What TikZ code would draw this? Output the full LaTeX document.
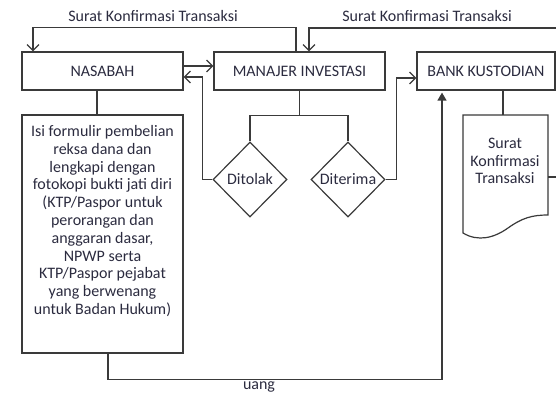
\documentclass[tikz,border=0pt]{standalone}
\usepackage{fontspec}
\setmainfont{Carlito}
\usetikzlibrary{arrows.meta,shapes.geometric}
\definecolor{ln}{HTML}{3A3A3A}
\definecolor{tx}{HTML}{2B2B3F}
\begin{document}
\begin{tikzpicture}[x=1pt,y=-1pt,
  font=\fontsize{16}{17.8}\selectfont, text=tx,
  box/.style={draw=ln, line width=1.2pt, rectangle, inner sep=0pt},
  dec/.style={draw=ln, line width=1.2pt, diamond, inner sep=0pt, minimum width=74pt, minimum height=75pt},
  conn/.style={draw=ln, line width=1.2pt},
  oarrow/.style={conn, -{Straight Barb[length=6pt,width=12pt]}},
  farrow/.style={conn, -{Triangle[length=8pt,width=9pt]}},
  txt/.style={align=center, inner sep=0pt}]
\useasboundingbox (0,0) rectangle (556,393);

% boxes
\node[box, minimum width=161pt, minimum height=38pt] (nas) at (102.5,71) {NASABAH};
\node[box, minimum width=171pt, minimum height=38pt] (man) at (299.5,71) {MANAJER INVESTASI};
\node[box, minimum width=138pt, minimum height=38pt] (bank) at (486,71) {BANK KUSTODIAN};
\node[box, minimum width=161pt, minimum height=238pt] (form) at (102.5,234) {};
\node[txt] (formtxt) at (102.5,221) {Isi formulir pembelian\\reksa dana dan\\lengkapi dengan\\fotokopi bukti jati diri\\(KTP/Paspor untuk\\perorangan dan\\anggaran dasar,\\NPWP serta\\KTP/Paspor pejabat\\yang berwenang\\untuk Badan Hukum)};

% decisions
\node[dec] (tol) at (250,179.5) {Ditolak};
\node[dec] (ter) at (348,179.5) {Diterima};

% document shape
\draw[conn, fill=white] (463,115) -- (548,115) -- (548,215)
  .. controls (532,215) and (522,218) .. (508,228)
  .. controls (494,238) and (478,242) .. (463,233) -- cycle;
\node[txt] (doc) at (505,161) {Surat\\Konfirmasi\\Transaksi};
\coordinate (doctop) at (503,115);
\coordinate (docr) at (548,177);
\coordinate (rc) at (558,28);

% labels
\node[txt] (l1) at (153,16) {Surat Konfirmasi Transaksi};
\node[txt] (l2) at (427,16) {Surat Konfirmasi Transaksi};
\node[txt] (uang) at (259,387) {uang};

% connectors
\draw[oarrow] ([xshift=-3.5pt]man.north) -- ++(0,-24) -| ([xshift=-69.5pt]nas.north);
\draw[oarrow] (docr) -| (rc) -| ([xshift=9.5pt]man.north);
\draw[oarrow] ([yshift=5pt]nas.east) -- ([yshift=5pt]man.west);
\draw[oarrow] (tol.west) -- ++(-10,0) |- ([yshift=-6pt]nas.east);
\draw[conn] (man.south) -- ++(0,25) coordinate (sp);
\draw[conn] (tol.north) |- (sp) -| (ter.north);
\draw[oarrow] (ter.east) -- ++(11,0) |- ([yshift=-7pt]bank.west);
\draw[conn] ([xshift=17pt]bank.south) -- (doctop);
\draw[conn] ([xshift=-5.5pt]nas.south) -- ([xshift=-5.5pt]form.north);
\draw[farrow] ([xshift=5.5pt]form.south) -- ++(0,26) -| ([xshift=-44pt,yshift=-2pt]bank.south);
\end{tikzpicture}
\end{document}
